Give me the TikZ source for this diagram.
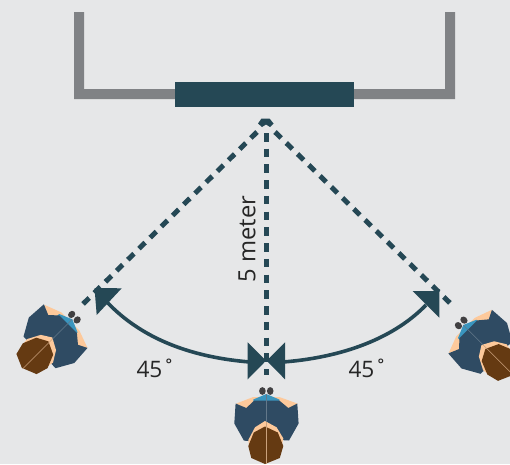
\documentclass[tikz,border=0pt]{standalone}
\usepackage{fontspec}
\setmainfont{Open Sans}
\definecolor{bg}{HTML}{E6E7E8}
\definecolor{wall}{HTML}{808285}
\definecolor{teal}{HTML}{254855}
\definecolor{suit}{HTML}{2F4B63}
\definecolor{peach}{HTML}{FDC99B}
\definecolor{collar}{HTML}{3A95BE}
\definecolor{hair}{HTML}{653A12}
\definecolor{hand}{HTML}{414042}
\tikzset{
  sight/.style={draw=teal,line width=3.75pt,dash pattern=on 6.4pt off 5.4pt},
  swing/.style={draw=teal,line width=2.7pt},
  tip/.style={fill=teal},
  lbl/.style={text=black!85,inner sep=0pt},
  person/.pic={
    \fill[hand] (-3.9,-3) circle[x radius=3.3,y radius=3.9];
    \fill[hand] (3.9,-3) circle[x radius=3.3,y radius=3.9];
    \fill[peach] (-30,9.5) -- (-13,3) -- (13,3) -- (31,9.5) -- (22,15) -- (-20,15) -- cycle;
    \fill[collar] (-13,5.5) -- (0,0) -- (13,5.5) -- (13,10) -- (-13,10) -- cycle;
    \fill[suit] (-30.7,9.5) -- (-20,14) -- (-12,6.5) -- (13,6.5) -- (22,14) -- (31,9.5)
      -- (32.3,29.5) -- (22.7,46.5) -- (13,46) -- (-13,47) -- (-22.3,46.7) -- (-32,29.5) -- cycle;
    \fill[peach] (-1.3,27) -- (-11.3,33.3) -- (-18,46) -- (-17,55) -- (15,55) -- (17,44.3) -- (10.3,33.3) -- cycle;
    \fill[hair] (-1.3,32.5) -- (-12.5,38.5) -- (-18,52) -- (-15,64) -- (-1.3,70) -- (13.5,64) -- (17,52) -- (11.5,38.5) -- cycle;
    \draw[suit!75!white,line width=0.4pt] (0,0) -- (0,28);
    \draw[peach!80!black,line width=0.4pt] (0,28) -- (0,70);
  },
}
\begin{document}
\begin{tikzpicture}[x=0.75pt,y=-0.75pt]
\useasboundingbox (0,0) rectangle (510,464);
\clip (0,0) rectangle (510,464);
\fill[bg] (0,0) rectangle (510,464);

% wall
\fill[wall] (74,12) -- (84,12) -- (84,89) -- (445,89) -- (445,12) -- (455,12) -- (455,99) -- (74,99) -- cycle;
\node[fill=teal,minimum width=134.25pt,minimum height=18.75pt,inner sep=0pt,outer sep=0pt] (screen) at (264.5,94.5) {};

% sight lines
\coordinate (endL) at (83,304);
\coordinate (endR) at (450,303);
\coordinate (centreA) at (266,133);
\coordinate (endC) at (266,375);
\coordinate (diagLA) at (257,132);
\coordinate (diagRA) at (275,132);
\draw[sight] (diagLA) -- (endL);
\draw[sight] (diagRA) -- (endR);
\draw[sight] (centreA) -- (endC);
\fill[teal] (258,123.5) -- (261.5,118.5) -- (269.5,118.5) -- (273.5,123.5) -- (270,127) -- (266,124.5) -- (262,127) -- cycle;

% swing arcs
\coordinate (tipL) at (94.5,288);
\coordinate (tipR) at (439.5,291);
\coordinate (tipCL) at (266,360.7);
\coordinate (tipCR) at (266.7,360.7);
\draw[swing] (106,301) .. controls (145,343) and (200,358) .. (250,362);
\draw[swing] (426,305) .. controls (390,342) and (335,358) .. (283,362);
\fill[tip] (tipL) -- (121.7,288.3) -- (96.7,315) -- cycle;
\fill[tip] (tipR) -- (412.7,291) -- (439.3,317.7) -- cycle;
\fill[tip] (tipCL) -- (247.7,342.3) -- (247.7,379.3) -- cycle;
\fill[tip] (tipCR) -- (285,342.3) -- (285,379.3) -- cycle;

% labels
\node[lbl,rotate=90,font=\fontsize{17.8pt}{20pt}\selectfont] (dist) at (247,239) {5 meter};
\node[lbl,font=\fontsize{17pt}{20pt}\selectfont] (angL) at (156,368) {45˚};
\node[lbl,font=\fontsize{17pt}{20pt}\selectfont] (angR) at (368,368) {45˚};

% people
\pic at (266.3,394) {person};
\pic[rotate=-45] at (72.3,319.3) {person};
\pic[rotate=45] at (463.3,325) {person};
\end{tikzpicture}
\end{document}
